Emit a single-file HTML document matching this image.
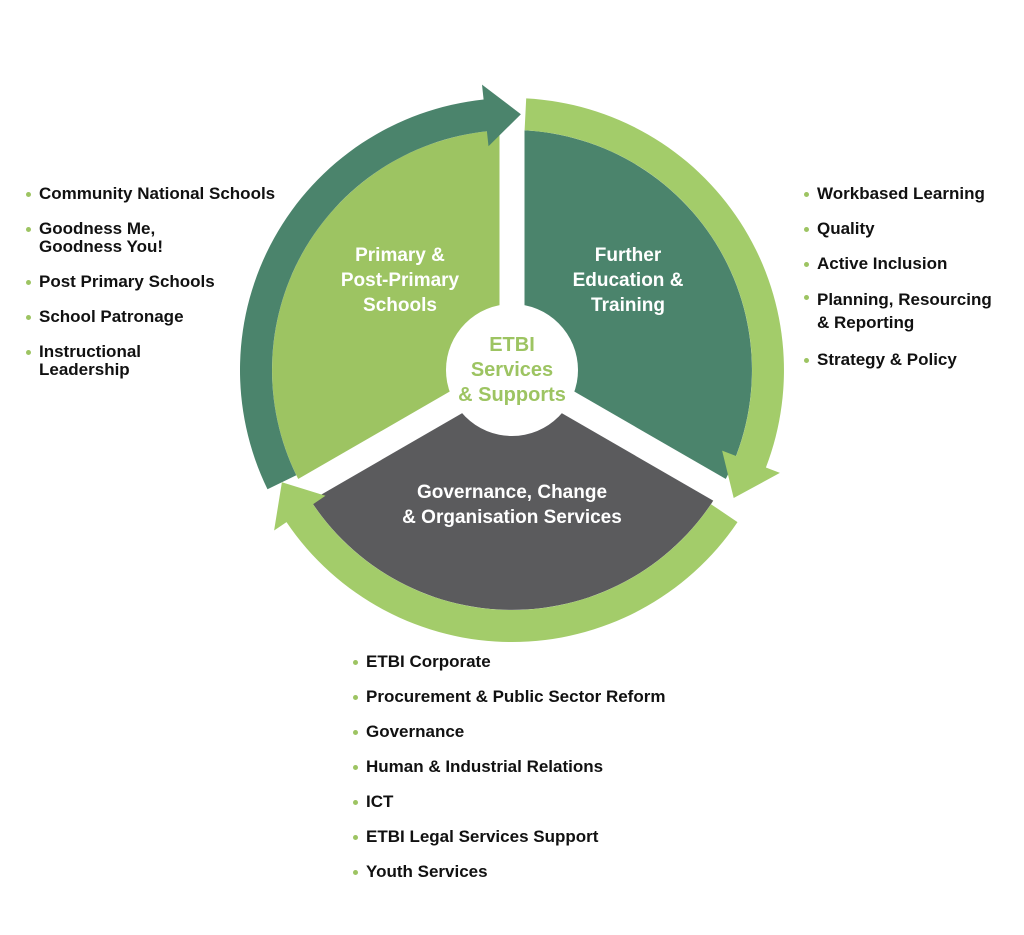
<!DOCTYPE html>
<html><head><meta charset="utf-8"><style>
body{margin:0;background:#fff;width:1024px;height:935px;position:relative;overflow:hidden;font-family:"Liberation Sans",sans-serif}
ul{position:absolute;margin:0;padding:0;list-style:none;font-weight:bold;font-size:17px;color:#111;line-height:18px}
li{position:relative;padding-left:0;margin:0}
li:before{content:"";position:absolute;left:-13px;top:7px;width:5px;height:5px;border-radius:50%;background:#9dc462}
svg{position:absolute;left:0;top:0}
</style></head><body>
<svg id="s" width="1024" height="935" viewBox="0 0 1024 935"></svg>
<ul style="left:39px;top:185px">
<li style="margin-bottom:17px">Community National Schools</li>
<li style="margin-bottom:17px">Goodness Me,<br>Goodness You!</li>
<li style="margin-bottom:17px">Post Primary Schools</li>
<li style="margin-bottom:17px">School Patronage</li>
<li>Instructional<br>Leadership</li>
</ul>
<ul style="left:817px;top:185px">
<li style="margin-bottom:17px">Workbased Learning</li>
<li style="margin-bottom:17px">Quality</li>
<li style="margin-bottom:17px">Active Inclusion</li>
<li style="margin-bottom:17px;line-height:23px;margin-top:-2px">Planning, Resourcing<br>&amp; Reporting</li>
<li>Strategy &amp; Policy</li>
</ul>
<ul style="left:366px;top:653px">
<li style="margin-bottom:17px">ETBI Corporate</li>
<li style="margin-bottom:17px">Procurement &amp; Public Sector Reform</li>
<li style="margin-bottom:17px">Governance</li>
<li style="margin-bottom:17px">Human &amp; Industrial Relations</li>
<li style="margin-bottom:17px">ICT</li>
<li style="margin-bottom:17px">ETBI Legal Services Support</li>
<li>Youth Services</li>
</ul>
<script>
var cx=512,cy=370,R=240,s=document.getElementById('s'),h='';
function P(r,a){a=a*Math.PI/180;return [cx+r*Math.cos(a),cy-r*Math.sin(a)];}
function f(p){return p[0].toFixed(1)+','+p[1].toFixed(1);}
function sector(a1,a2,col){
 var p1=P(R,a1),p2=P(R,a2);
 h+='<path d="M'+cx+','+cy+' L'+f(p1)+' A'+R+','+R+' 0 0 1 '+f(p2)+' Z" fill="'+col+'"/>';
}
sector(210,90,'#9dc462');
sector(90,-30,'#4b846c');
sector(-30,-150,'#5b5b5d');
[90,-30,210].forEach(function(a){var p=P(R+5,a);h+='<line x1="'+cx+'" y1="'+cy+'" x2="'+p[0].toFixed(1)+'" y2="'+p[1].toFixed(1)+'" stroke="#fff" stroke-width="25"/>';});
h+='<circle cx="'+cx+'" cy="'+cy+'" r="66" fill="#fff"/>';
function arrow(a1,a2,tip,col){
 var r1=240,r2=272,rm=256;
 var large=(a1-a2)>180?1:0;
 var d='M'+f(P(r2,a1))+' A'+r2+','+r2+' 0 '+large+' 1 '+f(P(r2,a2))+' L'+f(P(r2+15,a2))+' L'+f(P(rm,tip))+' L'+f(P(r1-15,a2))+' L'+f(P(r1,a2))+' A'+r1+','+r1+' 0 '+large+' 0 '+f(P(r1,a1))+' Z';
 h+='<path d="'+d+'" fill="'+col+'"/>';
}
arrow(206,96,88,'#4b846c');
arrow(87,-21,-30,'#a3cc6a');
arrow(-34,-146,-154,'#a3cc6a');
h+='<g font-family="Liberation Sans,sans-serif" font-weight="bold" font-size="19" fill="#fff" text-anchor="middle">';
h+='<text x="400" y="261">Primary &amp;</text><text x="400" y="286">Post-Primary</text><text x="400" y="311">Schools</text>';
h+='<text x="628" y="261">Further</text><text x="628" y="286">Education &amp;</text><text x="628" y="311">Training</text>';
h+='<text x="512" y="498">Governance, Change</text><text x="512" y="523">&amp; Organisation Services</text>';
h+='<g fill="#9dc462" font-size="20"><text x="512" y="351">ETBI</text><text x="512" y="376">Services</text><text x="512" y="401">&amp; Supports</text></g></g>';
s.innerHTML=h;
</script>
</body></html>
